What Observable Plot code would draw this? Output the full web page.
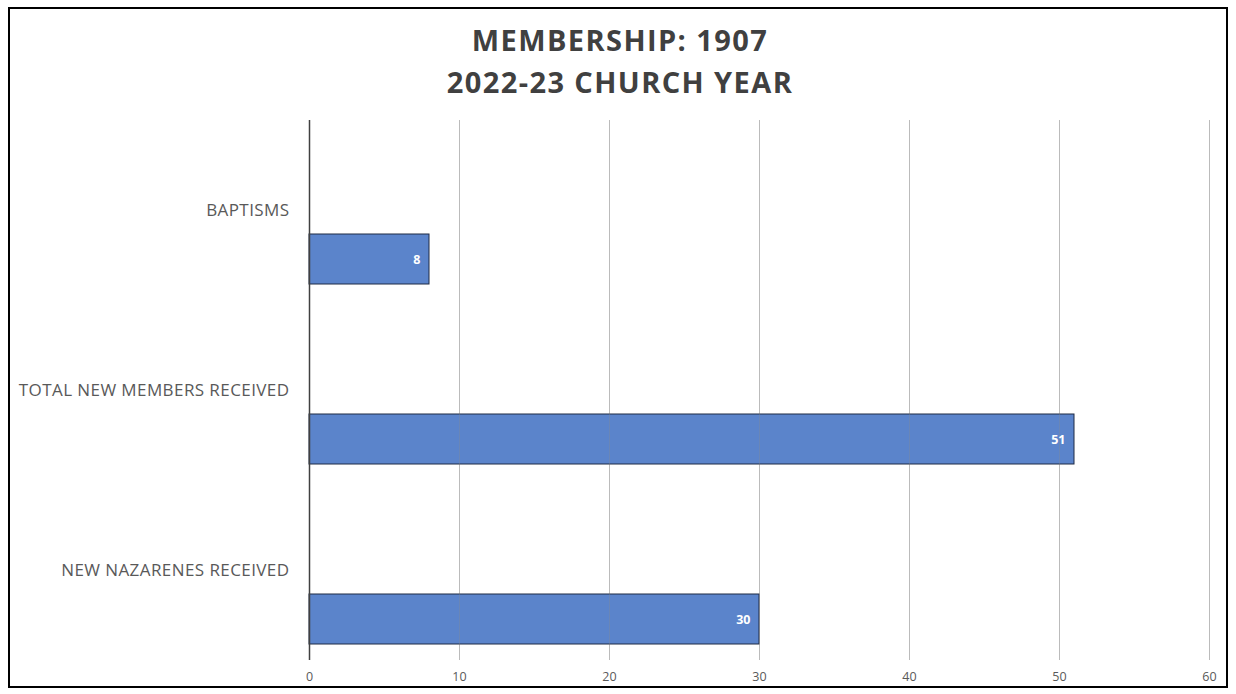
<!DOCTYPE html>
<html>
<head>
<meta charset="utf-8">
<script src="https://cdn.jsdelivr.net/npm/d3@7"></script>
<script src="https://cdn.jsdelivr.net/npm/@observablehq/plot@0.6"></script>
<style>
  html, body { margin: 0; padding: 0; background: #fff; }
  #wrap { position: relative; width: 1236px; height: 694px; overflow: hidden; }
  #frame { position: absolute; left: 8px; top: 7px; width: 1220px; height: 681px; border: 2.5px solid #000; box-sizing: border-box; pointer-events: none; z-index: 2; }
  #title { position: absolute; left: 0; top: 19px; width: 1240px; text-align: center; font-family: "Open Sans", sans-serif; font-weight: 700; font-size: 29px; letter-spacing: 1.4px; line-height: 42px; color: #404040; z-index: 1; }
  #chart { position: absolute; left: 0; top: 0; }
  #chart g[aria-label="y-axis tick label"] text { letter-spacing: 0.42px; }
</style>
</head>
<body>
<div id="wrap">
  <div id="frame"></div>
  <div id="title">MEMBERSHIP: 1907<br>2022-23 CHURCH YEAR</div>
  <div id="chart"></div>
</div>
<script>
const categories = ["BAPTISMS", "TOTAL NEW MEMBERS RECEIVED", "NEW NAZARENES RECEIVED"];
const values = [8, 51, 30];
const xTicks = [0, 10, 20, 30, 40, 50, 60];

const data = categories.map((c, i) => ({category: c, value: values[i]}));

const chart = Plot.plot({
  width: 1236,
  height: 694,
  marginLeft: 309,
  marginRight: 27,
  marginTop: 120,
  marginBottom: 34,
  style: {fontFamily: "'Open Sans', sans-serif", background: "transparent"},
  x: {domain: [0, 60], ticks: xTicks, label: null},
  y: {domain: categories, padding: 0, label: null},
  marks: [
    Plot.ruleX(xTicks.filter(d => d !== 0), {stroke: "#d0d0d0", strokeWidth: 1}),
    Plot.barX(data, {
      y: "category", x: "value",
      fill: "#5b84cb", stroke: "#1f2a44", strokeWidth: 1,
      insetTop: 114, insetBottom: 16
    }),
    Plot.ruleX(xTicks.filter(d => d !== 0), {stroke: "#8a8a8a", strokeOpacity: 0.3, strokeWidth: 1}),
    Plot.ruleX([0], {stroke: "#404040", strokeWidth: 1.5}),
    Plot.text(data, {
      y: "category", x: "value",
      text: d => String(d.value),
      textAnchor: "end", dx: -9, dy: 49,
      fill: "#ffffff", fontWeight: "bold", fontSize: 12.5
    }),
    Plot.axisX({ticks: xTicks, tickSize: 0, tickPadding: 12, fontSize: 12.5, fill: "#595959", label: null}),
    Plot.axisY({tickSize: 0, tickPadding: 20, fontSize: 17, fill: "#595959", label: null})
  ]
});
document.getElementById("chart").appendChild(chart);
</script>
</body>
</html>
